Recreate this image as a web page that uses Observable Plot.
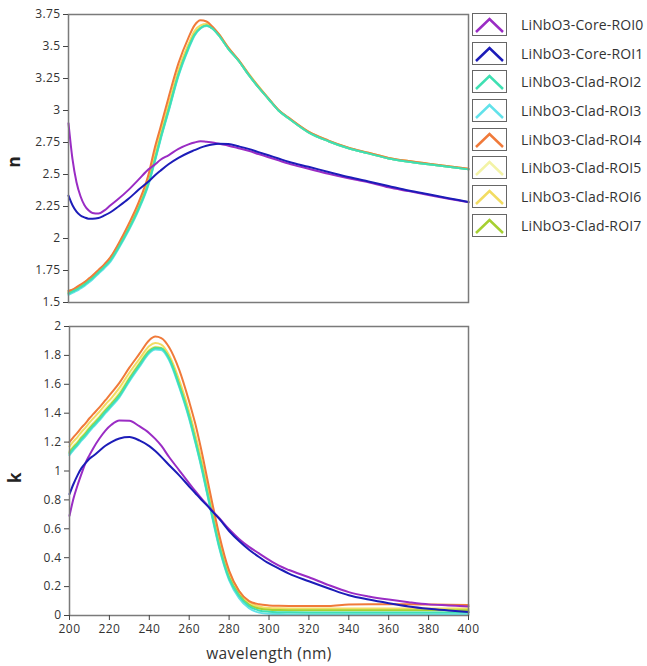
<!DOCTYPE html>
<html><head><meta charset="utf-8">
<script src="https://cdn.jsdelivr.net/npm/d3@7"></script>
<script src="https://cdn.jsdelivr.net/npm/@observablehq/plot@0.6"></script>
<style>
body{margin:0;background:#fff;font-family:"Open Sans",sans-serif;}
#wrap{position:relative;width:647px;height:666px;overflow:hidden;}
#top,#bot{position:absolute;left:0;}
#top{top:0}
#bot{top:316px}
.box{position:absolute;left:472px;width:33px;height:21px;border:1.5px solid #666;background:#fff;}
.lab{position:absolute;left:521px;font-size:14px;letter-spacing:0.15px;color:#333;line-height:24px;white-space:nowrap;}
</style></head><body><div id="wrap"><div id="top"></div><div id="bot"></div><div id="legend"></div></div>
<script>
const series = ["LiNbO3-Core-ROI0","LiNbO3-Core-ROI1","LiNbO3-Clad-ROI2","LiNbO3-Clad-ROI3","LiNbO3-Clad-ROI4","LiNbO3-Clad-ROI5","LiNbO3-Clad-ROI6","LiNbO3-Clad-ROI7"];
const colors = ["#9a2cc4","#1c1cb8","#3fe0b2","#62e2ea","#f07a3a","#f3f3a6","#f2dc62","#a6d032"];
const drawOrder = [5,6,7,3,4,2,0,1];

const wavelength = [200,202,204,206,208,210,212,215,218,221,225,230,235,240,243,246,250,255,260,263,266,269,272,275,280,285,290,295,300,305,310,320,330,340,350,360,370,380,390,400];

const nROI0 = [2.90,2.62,2.44,2.33,2.26,2.22,2.20,2.195,2.22,2.26,2.31,2.38,2.46,2.54,2.575,2.615,2.65,2.70,2.735,2.75,2.76,2.755,2.75,2.74,2.725,2.705,2.685,2.66,2.635,2.61,2.585,2.545,2.505,2.47,2.44,2.40,2.37,2.34,2.31,2.283];
const nROI1 = [2.335,2.26,2.21,2.18,2.165,2.155,2.155,2.16,2.18,2.205,2.25,2.31,2.38,2.445,2.49,2.53,2.58,2.63,2.67,2.69,2.71,2.725,2.735,2.74,2.738,2.72,2.70,2.675,2.65,2.625,2.60,2.56,2.52,2.48,2.445,2.41,2.375,2.345,2.315,2.285];
const nROI2 = [1.57,1.585,1.60,1.62,1.64,1.665,1.69,1.735,1.78,1.83,1.93,2.07,2.23,2.43,2.60,2.78,3.00,3.28,3.49,3.59,3.645,3.665,3.64,3.59,3.48,3.39,3.28,3.18,3.09,3.00,2.94,2.83,2.76,2.705,2.665,2.625,2.60,2.58,2.56,2.54];
const nROI3 = [1.56,1.575,1.59,1.61,1.63,1.655,1.68,1.725,1.77,1.82,1.92,2.06,2.22,2.42,2.59,2.77,2.99,3.27,3.48,3.585,3.64,3.66,3.64,3.59,3.48,3.39,3.28,3.18,3.09,3.00,2.94,2.83,2.76,2.705,2.665,2.625,2.60,2.58,2.56,2.54];
const nROI4 = [1.59,1.60,1.62,1.64,1.66,1.685,1.71,1.755,1.80,1.855,1.96,2.11,2.28,2.50,2.70,2.87,3.10,3.37,3.57,3.665,3.705,3.695,3.655,3.60,3.49,3.395,3.285,3.185,3.095,3.005,2.945,2.835,2.765,2.71,2.67,2.63,2.605,2.585,2.565,2.545];
const nROI5 = [1.58,1.595,1.61,1.63,1.65,1.675,1.70,1.745,1.79,1.84,1.94,2.08,2.24,2.44,2.61,2.79,3.01,3.29,3.50,3.60,3.65,3.665,3.645,3.595,3.485,3.39,3.285,3.185,3.09,3.00,2.94,2.83,2.76,2.705,2.665,2.625,2.60,2.58,2.56,2.54];
const nROI6 = [1.59,1.60,1.615,1.635,1.655,1.68,1.705,1.75,1.795,1.85,1.95,2.10,2.26,2.47,2.65,2.83,3.05,3.32,3.52,3.62,3.665,3.675,3.65,3.60,3.49,3.395,3.29,3.19,3.095,3.005,2.945,2.835,2.765,2.71,2.67,2.63,2.605,2.585,2.565,2.545];
const nROI7 = [1.575,1.59,1.605,1.625,1.645,1.67,1.695,1.74,1.785,1.835,1.935,2.075,2.235,2.435,2.605,2.785,3.005,3.285,3.495,3.595,3.645,3.665,3.64,3.59,3.48,3.39,3.28,3.18,3.09,3.00,2.94,2.83,2.76,2.705,2.665,2.625,2.60,2.58,2.56,2.54];

const kROI0 = [0.69,0.81,0.90,0.98,1.055,1.11,1.16,1.225,1.28,1.32,1.35,1.347,1.31,1.262,1.222,1.175,1.095,1.005,0.915,0.862,0.812,0.765,0.718,0.675,0.597,0.53,0.475,0.43,0.385,0.345,0.315,0.265,0.21,0.162,0.132,0.11,0.092,0.077,0.07,0.063];
const kROI1 = [0.84,0.91,0.97,1.02,1.055,1.085,1.105,1.14,1.175,1.20,1.225,1.235,1.212,1.172,1.138,1.098,1.04,0.97,0.893,0.848,0.803,0.76,0.715,0.67,0.585,0.515,0.455,0.405,0.36,0.325,0.29,0.237,0.187,0.14,0.11,0.085,0.063,0.047,0.035,0.024];
const kROI2 = [1.12,1.155,1.185,1.22,1.25,1.285,1.315,1.36,1.41,1.455,1.52,1.63,1.73,1.825,1.85,1.848,1.775,1.59,1.37,1.21,1.04,0.85,0.66,0.48,0.255,0.135,0.065,0.035,0.026,0.023,0.022,0.021,0.021,0.021,0.021,0.021,0.021,0.021,0.021,0.021];
const kROI3 = [1.11,1.145,1.175,1.21,1.24,1.275,1.305,1.35,1.40,1.445,1.51,1.62,1.72,1.815,1.84,1.838,1.765,1.58,1.36,1.20,1.03,0.84,0.65,0.47,0.245,0.12,0.05,0.02,0.012,0.01,0.009,0.008,0.008,0.008,0.008,0.008,0.008,0.008,0.008,0.008];
const kROI4 = [1.20,1.235,1.265,1.30,1.33,1.365,1.395,1.44,1.49,1.54,1.61,1.715,1.81,1.905,1.93,1.92,1.855,1.70,1.48,1.33,1.15,0.95,0.75,0.56,0.31,0.17,0.10,0.078,0.07,0.067,0.066,0.066,0.066,0.076,0.077,0.077,0.077,0.076,0.075,0.072];
const kROI5 = [1.14,1.175,1.205,1.24,1.27,1.305,1.335,1.38,1.43,1.475,1.545,1.65,1.75,1.84,1.86,1.855,1.785,1.61,1.39,1.235,1.065,0.875,0.685,0.51,0.28,0.155,0.085,0.055,0.047,0.045,0.044,0.044,0.044,0.044,0.044,0.044,0.044,0.044,0.044,0.044];
const kROI6 = [1.17,1.205,1.235,1.27,1.30,1.335,1.365,1.41,1.46,1.505,1.575,1.68,1.775,1.865,1.885,1.875,1.80,1.63,1.41,1.255,1.085,0.895,0.705,0.53,0.30,0.17,0.095,0.062,0.052,0.05,0.049,0.049,0.049,0.049,0.049,0.049,0.049,0.049,0.049,0.049];
const kROI7 = [1.13,1.165,1.195,1.23,1.26,1.295,1.325,1.37,1.42,1.465,1.53,1.64,1.74,1.832,1.855,1.85,1.78,1.60,1.38,1.22,1.05,0.86,0.67,0.49,0.265,0.145,0.075,0.048,0.04,0.038,0.037,0.037,0.037,0.037,0.037,0.037,0.037,0.037,0.037,0.037];

const nTicks = [1.5,1.75,2,2.25,2.5,2.75,3,3.25,3.5,3.75];
const kTicks = [0,0.2,0.4,0.6,0.8,1,1.2,1.4,1.6,1.8,2];
const wTicks = [200,220,240,260,280,300,320,340,360,380,400];

const nSeries = [nROI0,nROI1,nROI2,nROI3,nROI4,nROI5,nROI6,nROI7];
const kSeries = [kROI0,kROI1,kROI2,kROI3,kROI4,kROI5,kROI6,kROI7];
const toRows = arr => wavelength.map((w,j) => ({w, v: arr[j]}));

const font = {fontFamily:"'Open Sans', sans-serif", fontSize:"12px", letterSpacing:"0.4px", color:"#333", background:"transparent", overflow:"visible"};

function lines(seriesArr){
  return drawOrder.map(i => Plot.line(toRows(seriesArr[i]), {x:"w", y:"v", stroke: colors[i], strokeWidth: 2, curve: "monotone-x"}));
}

const topPlot = Plot.plot({
  width: 470, height: 310, marginLeft: 68, marginRight: 2, marginTop: 14, marginBottom: 8,
  x: {domain: [200, 400], axis: null},
  y: {domain: [1.5, 3.75]},
  style: font,
  marks: [
    ...lines(nSeries),
    Plot.frame({stroke: "#7a7a7a", strokeWidth: 1.5}),
    Plot.axisY({ticks: nTicks, tickFormat: d => String(d), tickSize: 5, tickPadding: 3, label: null, stroke: "#444", fill: "#333"}),
    Plot.text(["n"], {frameAnchor: "left", dx: -54, dy: 9, rotate: -90, fontSize: 17, fontWeight: "bold", fill: "#222"})
  ]
});
document.getElementById("top").appendChild(topPlot);

const botPlot = Plot.plot({
  width: 470, height: 349, marginLeft: 69, marginRight: 2, marginTop: 10, marginBottom: 50,
  x: {domain: [200, 400]},
  y: {domain: [0, 2]},
  style: font,
  marks: [
    ...lines(kSeries),
    Plot.frame({stroke: "#7a7a7a", strokeWidth: 1.5}),
    Plot.axisY({ticks: kTicks, tickFormat: d => String(d), tickSize: 5, tickPadding: 3, label: null, stroke: "#444", fill: "#333"}),
    Plot.axisX({ticks: wTicks, tickFormat: d => String(d), tickSize: 5, tickPadding: 4, label: null, stroke: "#444", fill: "#333"}),
    Plot.text(["k"], {frameAnchor: "left", dx: -54, dy: 12, rotate: -90, fontSize: 17, fontWeight: "bold", fill: "#222"}),
    Plot.text(["wavelength (nm)"], {frameAnchor: "bottom", dy: 43, fontSize: 15.5, fill: "#333"})
  ]
});
document.getElementById("bot").appendChild(botPlot);

const legend = d3.select("#legend");
series.forEach((name, i) => {
  const top = 13 + i * 28.67;
  const box = legend.append("div").attr("class", "box").style("top", top + "px");
  const svg = box.append("svg").attr("width", 33).attr("height", 21).style("display", "block");
  svg.append("path").attr("d", "M3,18 L16.5,5 L30,18").attr("fill", "none")
    .attr("stroke", colors[i]).attr("stroke-width", 2.5).attr("stroke-linejoin", "miter");
  legend.append("div").attr("class", "lab").style("top", top + "px").text(name);
});
</script></body></html>
